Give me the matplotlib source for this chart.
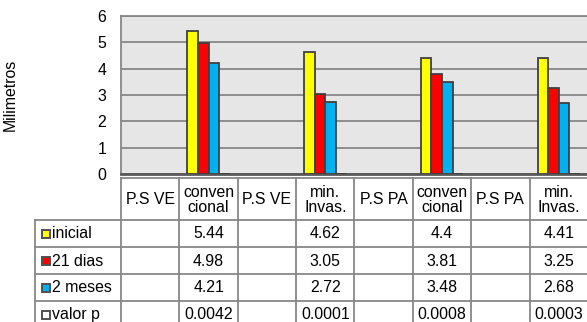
import numpy as np
import matplotlib
matplotlib.use("Agg")
import matplotlib.pyplot as plt
from matplotlib.lines import Line2D
from matplotlib.patches import Rectangle
from matplotlib.transforms import blended_transform_factory

plt.rcParams['font.family'] = ['Liberation Sans', 'DejaVu Sans']

categories = ["P.S VE", "conven\ncional", "P.S VE", "min.\nInvas.",
              "P.S PA", "conven\ncional", "P.S PA", "min.\nInvas."]
series_names = ["inicial", "21 dias", "2 meses", "valor p"]
inicial = [np.nan, 5.44, np.nan, 4.62, np.nan, 4.4, np.nan, 4.41]
dias21 = [np.nan, 4.98, np.nan, 3.05, np.nan, 3.81, np.nan, 3.25]
meses2 = [np.nan, 4.21, np.nan, 2.72, np.nan, 3.48, np.nan, 2.68]
valor_p = [np.nan, 0.0042, np.nan, 0.0001, np.nan, 0.0008, np.nan, 0.0003]
series_values = [inicial, dias21, meses2, valor_p]
series_colors = ["#FFFF00", "#FF0000", "#00B0F0", "#FFFFFF"]
yticks = [0, 1, 2, 3, 4, 5, 6]

W, H = 587, 322
FS = 11.4
GRID = "#878787"
EDGE = "#404040"

fig = plt.figure(figsize=(W / 100, H / 100), dpi=100)
fig.patch.set_facecolor("white")

# plot area in pixel terms
px_left, px_right, px_top, px_bottom = 121, 588, 16, 174
ax = fig.add_axes([px_left / W, 1 - px_bottom / H,
                   (px_right - px_left) / W, (px_bottom - px_top) / H])
ax.set_facecolor("#E6E6E6")

n = len(categories)
x = np.arange(n)
bw = 0.182
offsets = (np.arange(len(series_values)) - (len(series_values) - 1) / 2) * bw
for vals, col, off in zip(series_values, series_colors, offsets):
    ax.bar(x + off, vals, width=bw, color=col, edgecolor=EDGE, linewidth=1.3, zorder=3)

ax.set_xlim(-0.5, n - 0.5)
ax.set_ylim(0, 6)
ax.set_yticks(yticks)
ax.set_yticklabels([str(t) for t in yticks], fontsize=FS)
ax.tick_params(axis="y", length=0, pad=10.5)
ax.set_xticks([])
ax.yaxis.grid(True, color=GRID, linewidth=1.3, zorder=0)
ax.set_axisbelow(True)
ax.spines["right"].set_visible(False)
ax.spines["top"].set_color(GRID)
ax.spines["top"].set_linewidth(1.3)
ax.spines["left"].set_color(GRID)
ax.spines["left"].set_linewidth(1.3)
ax.spines["bottom"].set_color("#595959")
ax.spines["bottom"].set_linewidth(2.0)

ax.set_ylabel("Milimetros", fontsize=FS)
ax.yaxis.set_label_coords((18 - px_left) / (px_right - px_left), 0.5)

# data table below the plot
span_px = px_bottom - px_top
width_px = px_right - px_left


def ya(py):
    return (px_bottom - py) / span_px


def xa(pxx):
    return (pxx - px_left) / width_px


tr = blended_transform_factory(ax.transData, ax.transAxes)


def hline(x0, x1, py, transform):
    ax.add_line(Line2D([x0, x1], [ya(py), ya(py)], transform=transform,
                       color=GRID, linewidth=1.3, clip_on=False))


def vline(xx, py0, py1, transform):
    ax.add_line(Line2D([xx, xx], [ya(py0), ya(py1)], transform=transform,
                       color=GRID, linewidth=1.3, clip_on=False))


head_top, head_bot = 178, 220
row_edges = [220, 247.5, 274.5, 301.5, 328.5]
legend_left = 35

hline(-0.5, n - 0.5, head_top, tr)
hline(xa(legend_left), 1.0, head_bot, ax.transAxes)
for yb in row_edges[1:-1]:
    hline(xa(legend_left), 1.0, yb, ax.transAxes)
for b in np.arange(n + 1) - 0.5:
    vline(b, head_top, row_edges[-1], tr)
vline(xa(legend_left), head_bot, row_edges[-1], ax.transAxes)

for i, lab in enumerate(categories):
    ax.text(i, ya((head_top + head_bot) / 2 + 1), lab, transform=tr,
            ha="center", va="center", fontsize=FS, linespacing=0.92, clip_on=False)

for r, (name, vals, col) in enumerate(zip(series_names, series_values, series_colors)):
    yc = (row_edges[r] + row_edges[r + 1]) / 2
    ax.add_patch(Rectangle((xa(42), ya(yc + 4)), 8 / width_px, 8 / span_px,
                           transform=ax.transAxes, facecolor=col, edgecolor="#505050",
                           linewidth=1.4, clip_on=False))
    ax.text(xa(52), ya(yc), name, transform=ax.transAxes, ha="left", va="center",
            fontsize=FS, clip_on=False)
    for i, v in enumerate(vals):
        if not np.isnan(v):
            ax.text(i, ya(yc), f"{v:g}", transform=tr, ha="center", va="center",
                    fontsize=FS, clip_on=False)

fig.savefig("out.png", dpi=100)
